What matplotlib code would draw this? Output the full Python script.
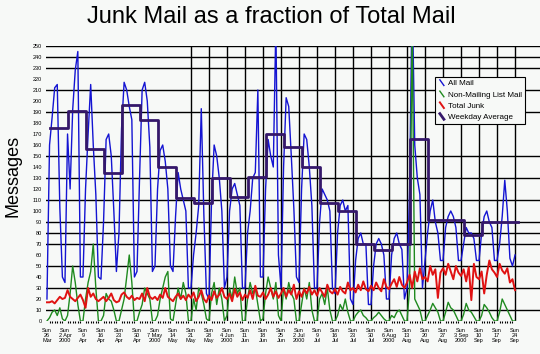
import matplotlib
matplotlib.use("Agg")
import matplotlib.pyplot as plt
from matplotlib.lines import Line2D
from matplotlib.legend_handler import HandlerBase
import pandas as pd

plt.rcParams['font.family'] = ['Liberation Sans', 'DejaVu Sans']

# daily values, one row per week (Sun .. Sat), starting Sun 26 Mar 2000
all_mail = [
    [20, 160, 185, 212, 215, 103, 40],
    [35, 170, 120, 192, 228, 245, 40],
    [40, 120, 170, 215, 160, 115, 40],
    [38, 90, 165, 170, 150, 100, 45],
    [80, 175, 217, 210, 195, 183, 40],
    [45, 130, 210, 217, 200, 158, 45],
    [50, 120, 155, 160, 145, 120, 50],
    [45, 95, 135, 120, 110, 100, 30],
    [30, 60, 80, 105, 193, 97, 25],
    [20, 110, 160, 150, 130, 100, 30],
    [40, 100, 120, 125, 115, 105, 30],
    [30, 80, 100, 130, 135, 210, 40],
    [40, 120, 165, 150, 140, 270, 60],
    [30, 140, 203, 195, 150, 102, 40],
    [35, 120, 170, 165, 140, 105, 30],
    [30, 90, 120, 115, 110, 100, 30],
    [25, 80, 105, 110, 100, 105, 20],
    [15, 55, 75, 80, 70, 70, 15],
    [15, 50, 70, 75, 70, 60, 20],
    [20, 60, 75, 80, 70, 65, 20],
    [30, 120, 300, 160, 130, 115, 30],
    [55, 80, 100, 110, 90, 80, 55],
    [55, 85, 95, 100, 95, 85, 55],
    [55, 70, 85, 80, 80, 75, 55],
    [55, 80, 95, 100, 90, 85, 55],
    [55, 70, 95, 128, 100, 57, 50],
    [60],
]

non_list_mail = [
    [0, 3, 8, 10, 5, 12, 2],
    [0, 5, 25, 50, 35, 15, 0],
    [0, 20, 35, 45, 70, 30, 0],
    [0, 5, 25, 20, 18, 10, 0],
    [0, 10, 20, 40, 60, 35, 0],
    [0, 8, 15, 30, 25, 20, 0],
    [0, 5, 20, 30, 40, 45, 2],
    [0, 15, 30, 20, 35, 25, 0],
    [0, 20, 10, 30, 25, 15, 2],
    [0, 25, 35, 15, 30, 20, 0],
    [5, 30, 20, 40, 25, 30, 0],
    [0, 20, 35, 25, 30, 15, 0],
    [2, 25, 40, 30, 20, 35, 5],
    [0, 30, 20, 35, 25, 20, 0],
    [0, 15, 30, 20, 35, 10, 0],
    [0, 20, 25, 15, 30, 10, 0],
    [0, 5, 15, 10, 20, 8, 0],
    [0, 5, 8, 10, 5, 3, 0],
    [0, 3, 5, 8, 5, 2, 0],
    [0, 5, 3, 8, 10, 5, 0],
    [0, 30, 270, 20, 15, 10, 0],
    [0, 5, 10, 16, 12, 8, 0],
    [0, 8, 17, 12, 10, 5, 0],
    [0, 6, 16, 10, 8, 4, 0],
    [0, 5, 15, 12, 8, 3, 0],
    [0, 8, 20, 15, 10, 5, 0],
    [0],
]

total_junk = [
    [17, 17, 18, 16, 19, 22, 20],
    [21, 28, 22, 20, 18, 21, 24],
    [19, 12, 30, 22, 25, 20, 18],
    [20, 22, 18, 21, 25, 19, 17],
    [18, 24, 26, 22, 20, 23, 19],
    [21, 20, 25, 18, 30, 22, 20],
    [22, 19, 24, 21, 30, 22, 20],
    [18, 22, 25, 20, 23, 19, 24],
    [21, 26, 18, 22, 28, 20, 17],
    [23, 19, 27, 21, 24, 30, 22],
    [20, 25, 18, 29, 22, 26, 19],
    [24, 21, 28, 20, 32, 23, 22],
    [26, 20, 24, 30, 22, 27, 21],
    [25, 30, 22, 28, 24, 33, 20],
    [27, 22, 29, 25, 31, 24, 28],
    [23, 30, 26, 22, 33, 27, 25],
    [29, 24, 31, 27, 25, 35, 28],
    [30, 26, 33, 28, 36, 29, 27],
    [32, 28, 35, 30, 27, 38, 31],
    [29, 34, 38, 31, 40, 33, 30],
    [35, 42, 30, 45, 36, 48, 38],
    [40, 36, 50, 42, 47, 21, 44],
    [48, 42, 52, 45, 38, 50, 44],
    [41, 47, 36, 49, 19, 52, 40],
    [38, 45, 25, 42, 55, 47, 44],
    [40, 52, 46, 43, 48, 35, 38],
    [28],
]

# weekday average, one value per week (Mon 27 Mar ..)
weekday_avg = [175, 191, 156, 135, 196, 183, 140, 112, 107, 130, 113, 131, 170,
               158, 140, 107, 100, 70, 65, 70, 165, 92, 92, 78, 90, 90]

tick_labels = ["Sun\n26\nMar", "Sun\n2 Apr\n2000", "Sun\n9\nApr", "Sun\n16\nApr",
               "Sun\n23\nApr", "Sun\n30\nApr", "Sun\n7 May\n2000", "Sun\n14\nMay",
               "Sun\n21\nMay", "Sun\n28\nMay", "Sun\n4 Jun\n2000", "Sun\n11\nJun",
               "Sun\n18\nJun", "Sun\n25\nJun", "Sun\n2 Jul\n2000", "Sun\n9\nJul",
               "Sun\n16\nJul", "Sun\n23\nJul", "Sun\n30\nJul", "Sun\n6 Aug\n2000",
               "Sun\n13\nAug", "Sun\n20\nAug", "Sun\n27\nAug", "Sun\n3 Sep\n2000",
               "Sun\n10\nSep", "Sun\n17\nSep", "Sun\n24\nSep"]

grid_values = [10, 30, 50, 70, 80, 90, 110, 130, 150, 190, 210, 230, 240, 250]

flat = lambda rows: [v for r in rows for v in r]
blue = flat(all_mail)
green = flat(non_list_mail)
red = flat(total_junk)
days = pd.date_range("2000-03-26", periods=len(blue), freq="D")
weeks = pd.date_range("2000-03-27", periods=len(weekday_avg) + 1, freq="7D")
ticks = pd.date_range("2000-03-26", periods=len(tick_labels), freq="7D")

bg = "#f7f9f7"
fig = plt.figure(figsize=(5.4, 3.54), dpi=100, facecolor=bg)
ax = fig.add_axes([46 / 540, 33 / 354, 494 / 540, 275 / 354])
ax.set_facecolor(bg)
for s in ax.spines.values():
    s.set_visible(False)

for g in grid_values:
    ax.axhline(g, color="black", lw=1.0, zorder=1)
for t in ticks[8:]:
    ax.axvline(t, color="black", lw=1.0, zorder=1)

l1, = ax.plot(days, blue, color="#1414d2", lw=1.0, zorder=2)
l2, = ax.plot(days, green, color="#1f8a1f", lw=1.0, zorder=3)
l3, = ax.plot(days, red, color="#e01212", lw=1.4, zorder=4)
l4, = ax.plot(weeks, weekday_avg + weekday_avg[-1:], color="#35186a", lw=2.0,
              drawstyle="steps-post", zorder=5)

ax.set_ylim(0, 250)
ax.set_xlim(days[0] - pd.Timedelta(hours=9), days[0] + pd.Timedelta(days=191.7))
ax.set_yticks(range(0, 251, 10))
ax.tick_params(axis="y", length=0, labelsize=4, pad=3)
ax.set_xticks(ticks)
ax.set_xticklabels(tick_labels, linespacing=1.0)
ax.set_xticks(days, minor=True)
ax.tick_params(axis="x", which="major", length=0, labelsize=4, pad=5)
ax.tick_params(axis="x", which="minor", length=1.2, width=0.8)

fig.text(271 / 540, 1 - 17 / 354, "Junk Mail as a fraction of Total Mail",
         fontsize=17, ha="center", va="center")
fig.text(13 / 540, 1 - 176 / 354, "Messages", fontsize=13, rotation=90,
         ha="center", va="center")


class DiagHandler(HandlerBase):
    def create_artists(self, legend, orig_handle, xdescent, ydescent,
                       width, height, fontsize, trans):
        ln = Line2D([width * 0.25, width * 0.75], [height * 1.0, 0.0],
                    color=orig_handle.get_color(),
                    lw=orig_handle.get_linewidth(), transform=trans)
        return [ln]


leg = fig.legend([l1, l2, l3, l4],
                 ["All Mail", "Non-Mailing List Mail", "Total Junk", "Weekday Average"],
                 handler_map={Line2D: DiagHandler()},
                 loc="upper left", bbox_to_anchor=(431 / 540, 1 - 73 / 354),
                 fontsize=5.8, frameon=True, fancybox=False, framealpha=1,
                 edgecolor="black", facecolor=bg, borderpad=0.35,
                 handlelength=1.0, handletextpad=0.3, labelspacing=0.45)
leg.get_frame().set_linewidth(0.8)

fig.savefig("out.png", dpi=100, facecolor=bg)
